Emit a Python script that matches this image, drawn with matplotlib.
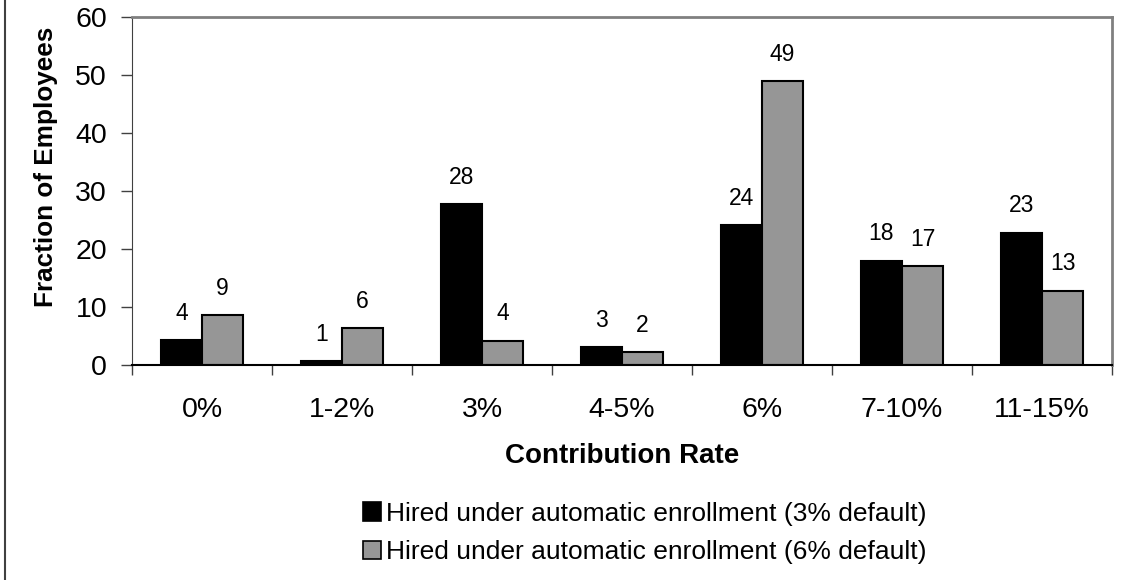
import matplotlib

matplotlib.use("Agg")
import matplotlib.pyplot as plt  # noqa: E402
import numpy as np  # noqa: E402
from matplotlib.lines import Line2D  # noqa: E402
from matplotlib.patches import Patch  # noqa: E402

plt.rcParams["font.family"] = ["Liberation Sans", "DejaVu Sans"]

categories = ["0%", "1-2%", "3%", "4-5%", "6%", "7-10%", "11-15%"]
default_3 = [4.3, 0.7, 27.7, 3.1, 24.1, 18.0, 22.8]
default_6 = [8.6, 6.4, 4.2, 2.2, 49.0, 17.0, 12.8]
series_labels = [
    "Hired under automatic enrollment (3% default)",
    "Hired under automatic enrollment (6% default)",
]
y_ticks = [0, 10, 20, 30, 40, 50, 60]

BLACK = "#000000"
GRAY = "#969696"
FRAME = "#808080"

fig = plt.figure(figsize=(11.27, 5.80), dpi=100, facecolor="white")
ax = fig.add_axes([132 / 1127, 1 - 365 / 580, (1112 - 132) / 1127, (365 - 17) / 580])

x = np.arange(len(categories))
width = 0.293
bars_a = ax.bar(x - width / 2, default_3, width, color=BLACK, edgecolor="black", linewidth=1.5)
bars_b = ax.bar(x + width / 2, default_6, width, color=GRAY, edgecolor="black", linewidth=1.5)

for bars in (bars_a, bars_b):
    for rect in bars:
        h = rect.get_height()
        ax.annotate(
            f"{h:.0f}",
            (rect.get_x() + rect.get_width() / 2, h),
            xytext=(0, 11),
            textcoords="offset points",
            ha="center",
            va="bottom",
            fontsize=16.5,
        )

ax.set_xlim(-0.5, len(categories) - 0.5)
ax.set_ylim(0, 60)
ax.set_yticks(y_ticks)
ax.set_xticks(x)
ax.set_xticklabels(categories)
ax.set_xticks(np.arange(-0.5, len(categories), 1.0), minor=True)
ax.tick_params(axis="x", which="major", length=0, labelsize=20.5, pad=23)
ax.tick_params(axis="x", which="minor", length=7, width=1, color="#404040", direction="out")
ax.tick_params(axis="y", length=8, width=1, color="#404040", direction="out", labelsize=20.5, pad=10)

ax.spines["left"].set_color("#404040")
ax.spines["bottom"].set_color("black")
ax.spines["bottom"].set_linewidth(1.5)
for side in ("top", "right"):
    ax.spines[side].set_color(FRAME)
    ax.spines[side].set_linewidth(2)

ax.set_xlabel("Contribution Rate", fontsize=20, fontweight="bold")
ax.xaxis.set_label_coords(0.5, -0.225)
ax.set_ylabel("Fraction of Employees", fontsize=18.8, fontweight="bold")
ax.yaxis.set_label_coords(-0.0755, 0.569)

handles = [
    Patch(facecolor=BLACK, edgecolor="black", linewidth=1.2),
    Patch(facecolor=GRAY, edgecolor="black", linewidth=1.2),
]
fig.legend(
    handles,
    series_labels,
    loc="center",
    bbox_to_anchor=(645 / 1127, 1 - 533 / 580),
    frameon=False,
    fontsize=19,
    handlelength=0.68,
    handleheight=0.68,
    handletextpad=0.2,
    labelspacing=0.55,
    borderpad=0,
)

# outer frame line on the left edge
fig.add_artist(Line2D([4.5 / 1127, 4.5 / 1127], [0, 1], transform=fig.transFigure, color="#404040", linewidth=1.5))

fig.savefig("out.png", dpi=100, facecolor="white")
